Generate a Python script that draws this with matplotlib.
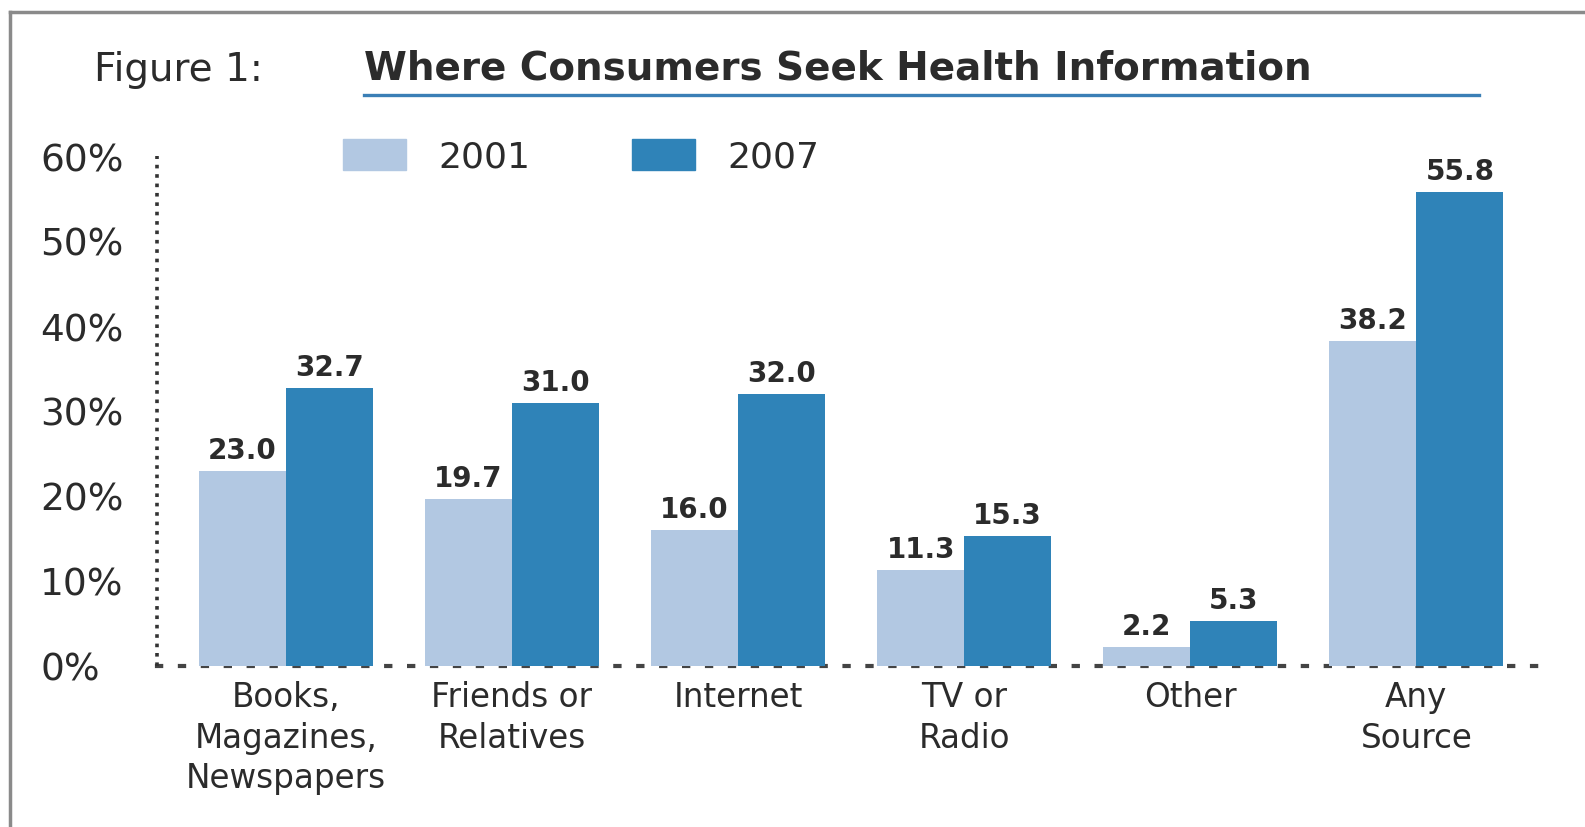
"""Where consumers seek health information, 2001 vs 2007."""

import matplotlib

matplotlib.use("Agg")
import matplotlib.pyplot as plt
from matplotlib.lines import Line2D
from matplotlib.patches import Patch
import numpy as np

categories = [
    "Books,\nMagazines,\nNewspapers",
    "Friends or\nRelatives",
    "Internet",
    "TV or\nRadio",
    "Other",
    "Any\nSource",
]
share_2001 = [23.0, 19.7, 16.0, 11.3, 2.2, 38.2]
share_2007 = [32.7, 31.0, 32.0, 15.3, 5.3, 55.8]
series_names = ["2001", "2007"]
y_ticks = [0, 10, 20, 30, 40, 50, 60]
y_tick_labels = [f"{t}%" for t in y_ticks]

LIGHT = "#b2c8e2"
DARK = "#2f83b8"
TEXT = "#2b2b2b"

plt.rcParams["font.family"] = ["DejaVu Sans"]

fig = plt.figure(figsize=(15.85, 8.28), dpi=100)
ax = fig.add_axes([157 / 1585, 1 - 667 / 828, (1552 - 157) / 1585, (667 - 157) / 828])

x = np.arange(len(categories))
width = 0.385
bars_a = ax.bar(x - width / 2, share_2001, width, color=LIGHT, zorder=3)
bars_b = ax.bar(x + width / 2, share_2007, width, color=DARK, zorder=3)

for bars in (bars_a, bars_b):
    for bar in bars:
        ax.annotate(
            f"{bar.get_height():.1f}",
            (bar.get_x() + bar.get_width() / 2, bar.get_height()),
            xytext=(0, 5),
            textcoords="offset points",
            ha="center",
            va="bottom",
            fontsize=20,
            fontweight="bold",
            color=TEXT,
        )

ax.set_xlim(-0.57, 5.6)
ax.set_ylim(0, 60)

# dotted axes
for side in ("top", "right"):
    ax.spines[side].set_visible(False)
ax.spines["left"].set_linestyle((0, (1, 1.6)))
ax.spines["left"].set_linewidth(2.6)
ax.spines["left"].set_color("#333333")
ax.spines["left"].set_capstyle("butt")
ax.spines["bottom"].set_linestyle((0, (1, 4.5)))
ax.spines["bottom"].set_linewidth(3)
ax.spines["bottom"].set_color("#444444")
ax.spines["bottom"].set_zorder(1)

ax.set_yticks(y_ticks)
ax.set_yticklabels(y_tick_labels, fontsize=27, color=TEXT, ha="left")
ax.tick_params(axis="y", length=0, pad=84)
ax.set_xticks(x)
ax.set_xticklabels(categories, fontsize=23.5, color=TEXT, linespacing=1.3, va="top")
ax.tick_params(axis="x", length=0, pad=10)

handles = [Patch(color=LIGHT), Patch(color=DARK)]
fig.legend(
    handles,
    series_names,
    loc="upper left",
    bbox_to_anchor=(343 / 1585, 1 - 140 / 828),
    ncol=2,
    frameon=False,
    fontsize=26,
    handlelength=1.75,
    handleheight=0.95,
    handletextpad=0.9,
    columnspacing=2.8,
    labelcolor=TEXT,
    borderpad=0,
    borderaxespad=0,
)

# header
fig.text(94 / 1585, 1 - 81 / 828, "Figure 1:", fontsize=28, color=TEXT, va="baseline")
fig.text(
    364 / 1585,
    1 - 80 / 828,
    "Where Consumers Seek Health Information",
    fontsize=28,
    fontweight="bold",
    color=TEXT,
    va="baseline",
)
fig.add_artist(Line2D([364 / 1585, 1479 / 1585], [1 - 96 / 828] * 2, color="#3b7fb6", linewidth=2.4))

# frame (top and left edges only are visible)
fig.add_artist(Line2D([10 / 1585, 1.0], [1 - 13 / 828] * 2, color="#8a8a8a", linewidth=2.5))
fig.add_artist(Line2D([10 / 1585] * 2, [1 - 13 / 828, 0.0], color="#8a8a8a", linewidth=2.5))

fig.savefig("out.png", dpi=100)
